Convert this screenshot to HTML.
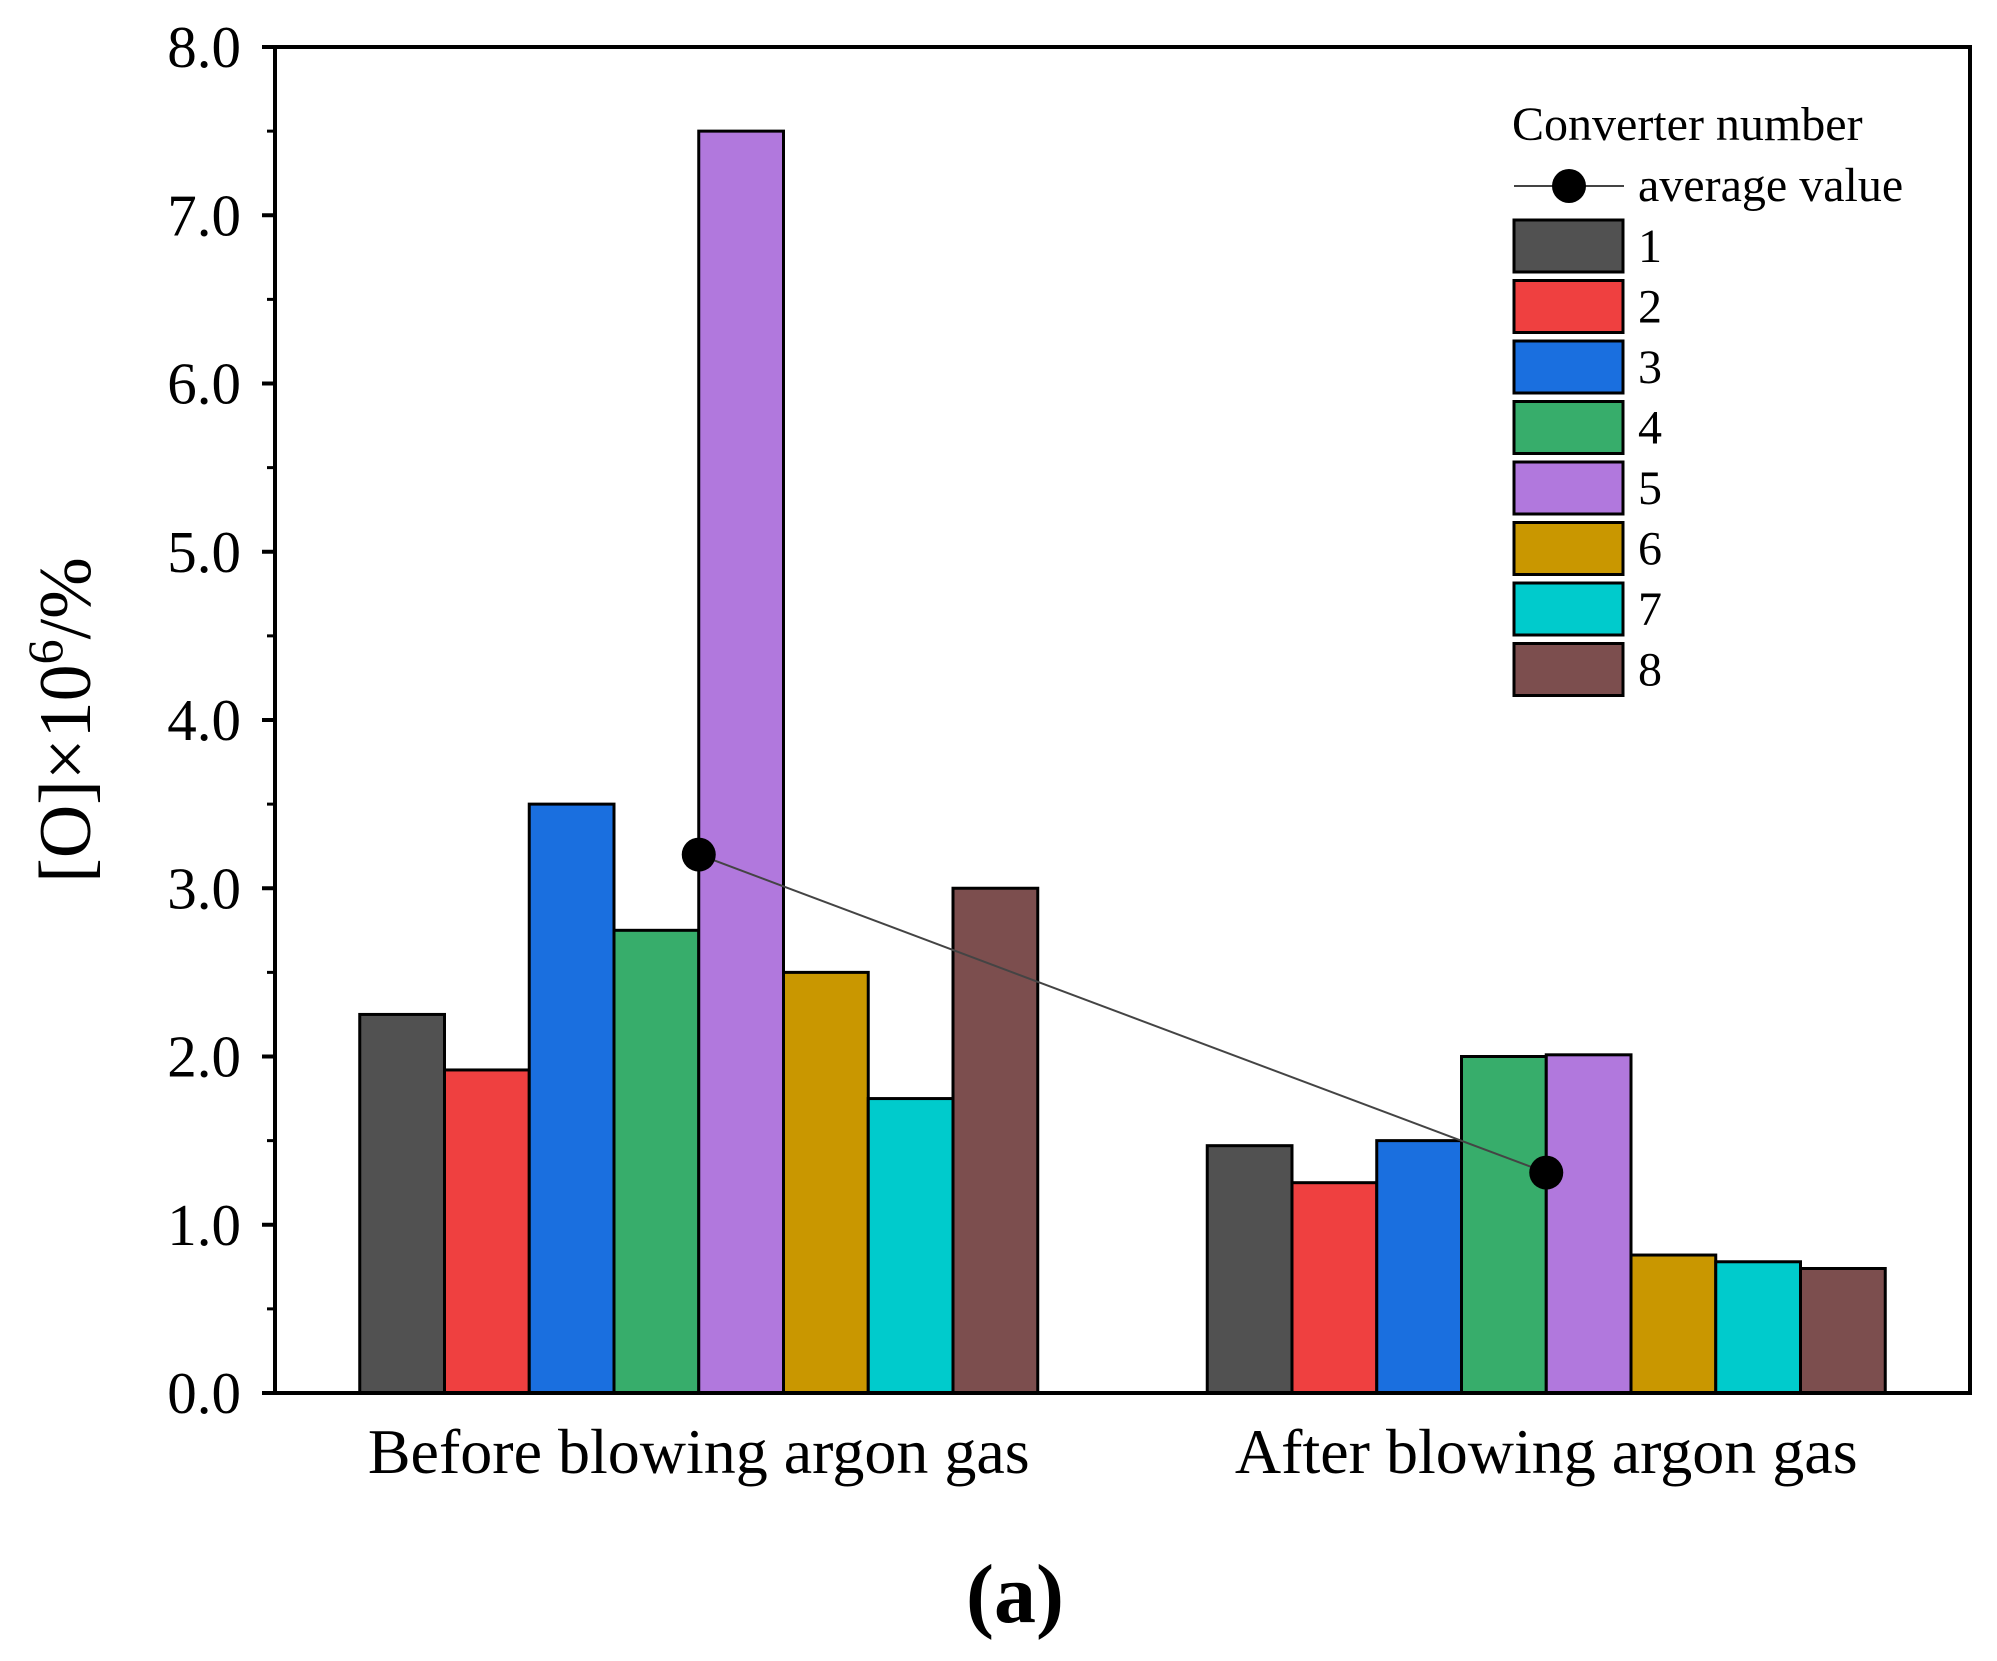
<!DOCTYPE html>
<html><head><meta charset="utf-8"><style>
html,body{margin:0;padding:0;background:#fff;}
svg text{font-family:"Liberation Serif",serif;fill:#000;}
</style></head><body>
<svg id="chart" width="1997" height="1656" viewBox="0 0 1997 1656" xmlns="http://www.w3.org/2000/svg"></svg>
<script>
const categories = ["Before blowing argon gas", "After blowing argon gas"];
const converters = ["1","2","3","4","5","6","7","8"];
const colors = ["#515151","#ef4040","#1a6fdf","#37ad6b","#b178dd","#c99700","#00cbcc","#7c4e4e"];
const beforeValues = [2.25, 1.92, 3.5, 2.75, 7.5, 2.5, 1.75, 3.0];
const afterValues = [1.47, 1.25, 1.5, 2.0, 2.01, 0.82, 0.78, 0.74];
const averageValues = [3.2, 1.31];
const yTicks = [0,1,2,3,4,5,6,7,8];
const yTickLabels = ["0.0","1.0","2.0","3.0","4.0","5.0","6.0","7.0","8.0"];

const NS="http://www.w3.org/2000/svg";
const svg=document.getElementById('chart');
const L=275,R=1970,T=47,B=1393;
function y(v){return B-(v/8)*(B-T);}
function x(c){return L+(c+0.5)*((R-L)/2);}
const groupW=(R-L)/2*0.8, barW=groupW/8;
function mk(tag,attrs,parent){const e=document.createElementNS(NS,tag);for(const k in attrs)e.setAttribute(k,attrs[k]);(parent||svg).appendChild(e);return e;}

const series=[beforeValues,afterValues];
series.forEach((vals,ci)=>{
  vals.forEach((v,i)=>{
    const bx=x(ci)-groupW/2+i*barW;
    const r=mk('rect',{x:bx,y:y(v),width:barW,height:B-y(v),fill:colors[i],stroke:'#000','stroke-width':3});
    
    
  });
});
const pl=mk('polyline',{points:averageValues.map((v,i)=>x(i)+','+y(v)).join(' '),fill:'none',stroke:'#444','stroke-width':2});


averageValues.forEach((v,i)=>{
  const c=mk('circle',{cx:x(i),cy:y(v),r:17,fill:'#000'});
  
  
});
const fr=mk('rect',{x:L,y:T,width:R-L,height:B-T,fill:'none',stroke:'#000','stroke-width':4});


yTicks.forEach((t,i)=>{
  mk('line',{x1:L-13,x2:L,y1:y(t),y2:y(t),stroke:'#000','stroke-width':4});
  if(i<yTicks.length-1) mk('line',{x1:L-8,x2:L,y1:y(t+0.5),y2:y(t+0.5),stroke:'#000','stroke-width':3});
  const tx=mk('text',{x:241,y:y(t)+20,'text-anchor':'end','font-size':59});
  tx.textContent=yTickLabels[i];
  
  
});
categories.forEach((c,i)=>{
  const tx=mk('text',{x:x(i),y:1473,'text-anchor':'middle','font-size':64});
  tx.textContent=c;
  
  
});
const yt=mk('text',{x:0,y:0,'text-anchor':'middle','font-size':74,transform:'translate(90,720) rotate(-90)'});
yt.innerHTML='[O]×10<tspan dy="-28" font-size="50">6</tspan><tspan dy="28">/%</tspan>';


const a=mk('text',{x:1015,y:1622,'text-anchor':'middle','font-size':84,'font-weight':'bold'});
a.textContent='(a)';


const lt=mk('text',{x:1512,y:140,'font-size':48});
lt.textContent='Converter number';


mk('line',{x1:1514,x2:1624,y1:186,y2:186,stroke:'#444','stroke-width':2});
mk('circle',{cx:1569,cy:186,r:17,fill:'#000'});
const la=mk('text',{x:1638,y:201,'font-size':48});
la.textContent='average value';


converters.forEach((c,i)=>{
  const yy=220+i*60.5;
  const r=mk('rect',{x:1514,y:yy,width:109,height:52,fill:colors[i],stroke:'#000','stroke-width':3});
  
  
  const t=mk('text',{x:1638,y:yy+42,'font-size':48});
  t.textContent=c;
  
  
});
</script>
</body></html>
